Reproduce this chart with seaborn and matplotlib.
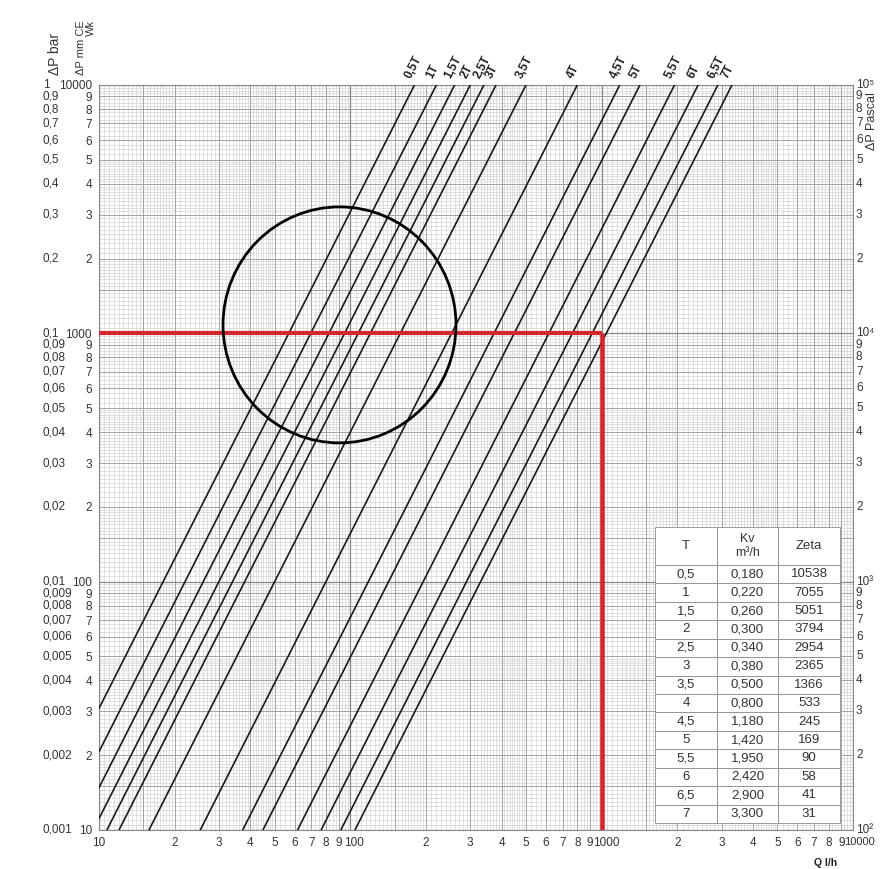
import numpy as np
import pandas as pd
import matplotlib
matplotlib.use("Agg")
import matplotlib.pyplot as plt
import seaborn as sns
from matplotlib.patches import Ellipse
import matplotlib.transforms as mtransforms

sns.set_style("white")
plt.rcParams['font.family'] = ['Liberation Sans', 'DejaVu Sans']

# ---- data (valve table) ----
t_labels = ['0,5', '1', '1,5', '2', '2,5', '3', '3,5', '4', '4,5', '5', '5,5', '6', '6,5', '7']
kv = [0.180, 0.220, 0.260, 0.300, 0.340, 0.380, 0.500, 0.800, 1.180, 1.420, 1.950, 2.420, 2.900, 3.300]
kv_text = ['0,180', '0,220', '0,260', '0,300', '0,340', '0,380', '0,500', '0,800',
           '1,180', '1,420', '1,950', '2,420', '2,900', '3,300']
zeta = ['10538', '7055', '5051', '3794', '2954', '2365', '1366', '533', '245', '169', '90', '58', '41', '31']

q_lim = [10, 10000]      # Q l/h
dp_lim = [10, 10000]     # dP mm CE
q_mark = 1000            # red reading line
dp_mark = 1000

x_ticks = [10, 20, 30, 40, 50, 60, 70, 80, 90, 100, 200, 300, 400, 500, 600, 700, 800, 900,
           1000, 2000, 3000, 4000, 5000, 6000, 7000, 8000, 9000, 10000]
x_ticklabels = ['10', '2', '3', '4', '5', '6', '7', '8', '9', '100', '2', '3', '4', '5', '6', '7', '8', '9',
                '1000', '2', '3', '4', '5', '6', '7', '8', '9', '10000']
y_ticks = x_ticks
mm_labels = x_ticklabels
bar_labels = ['0,001', '0,002', '0,003', '0,004', '0,005', '0,006', '0,007', '0,008', '0,009',
              '0,01', '0,02', '0,03', '0,04', '0,05', '0,06', '0,07', '0,08', '0,09',
              '0,1', '0,2', '0,3', '0,4', '0,5', '0,6', '0,7', '0,8', '0,9', '1']
pa_labels = ['10²', '2', '3', '4', '5', '6', '7', '8', '9',
             '10³', '2', '3', '4', '5', '6', '7', '8', '9',
             '10⁴', '2', '3', '4', '5', '6', '7', '8', '9', '10⁵']

# ---- lines: dP(bar) = (Q/Kv)^2, Q in m3/h ----
rows = []
for lab, k in zip(t_labels, kv):
    q_lo = max(q_lim[0], 1000 * k * np.sqrt(dp_lim[0] / 10000))
    q_hi = min(q_lim[1], 1000 * k * np.sqrt(dp_lim[1] / 10000))
    for q in (q_lo, q_hi):
        rows.append({'T': lab, 'Q': q, 'dP': 10000 * (q / 1000 / k) ** 2})
df = pd.DataFrame(rows)

fig = plt.figure(figsize=(8.83, 8.69), dpi=100)
ax = fig.add_axes([0.1121, 0.0449, 0.8539, 0.8573])
ax.set_xscale('log')
ax.set_yscale('log')
ax.set_xlim(q_lim)
ax.set_ylim(dp_lim)

# graph paper grid
fine, mid, major = [], [], []
for dec in (10, 100, 1000):
    fine += list(dec * np.arange(1.05, 2.0, 0.05)) + list(dec * np.arange(2.1, 5.0, 0.1)) \
        + list(dec * np.arange(5.25, 10.0, 0.25))
    mid += list(dec * np.array([1.5, 2, 3, 4, 5, 6, 7, 8, 9]))
    major.append(dec)
major.append(10000)
for vals, col, lw in ((fine, '#d4d4d4', 0.5), (mid, '#a4a4a4', 0.7), (major, '#888888', 0.9)):
    ax.vlines(vals, dp_lim[0], dp_lim[1], colors=col, lw=lw, zorder=0)
    ax.hlines(vals, q_lim[0], q_lim[1], colors=col, lw=lw, zorder=0)

sns.lineplot(data=df, x='Q', y='dP', units='T', estimator=None, color='#1a1a1a',
             lw=1.2, ax=ax, legend=False, zorder=3)

# labels at top of each line
for lab, k in zip(t_labels, kv):
    q_top = min(q_lim[1], 1000 * k * np.sqrt(dp_lim[1] / 10000))
    ax.annotate(lab + 'T', xy=(q_top, dp_lim[1]), xytext=(-1, 3), textcoords='offset points',
                rotation=63, rotation_mode='anchor', ha='left', va='bottom',
                fontsize=8.5, fontweight='bold', color='#222222')

# red reading lines
ax.plot([q_lim[0], q_mark], [dp_mark, dp_mark], color='#d3262e', lw=3, solid_capstyle='butt', zorder=4)
ax.plot([q_mark, q_mark], [dp_mark, dp_lim[0]], color='#d3262e', lw=3.3, solid_capstyle='butt', zorder=4)

# circle highlight
ax.add_patch(Ellipse((0.319, 0.678), 0.309, 0.3168, transform=ax.transAxes,
                     fill=False, lw=2, edgecolor='black', zorder=5))

# x labels (decade labels nudged right so they don't run into the 9)
ax.set_xticks(x_ticks, [''] * len(x_ticks))
xtrans = mtransforms.blended_transform_factory(ax.transData, ax.transAxes)
for x, lab in zip(x_ticks, x_ticklabels):
    dx = {3: 3, 4: 3, 5: 4.5}.get(len(lab), 0)
    ax.annotate(lab, xy=(x, 0), xycoords=xtrans, xytext=(dx, -5),
                textcoords='offset points', ha='center', va='top',
                fontsize=8 if len(lab) == 5 else 8.5, color='#333333', annotation_clip=False)

ax.set_yticks(y_ticks, mm_labels)
ax.minorticks_off()
ax.tick_params(axis='both', length=0, labelsize=8.5, colors='#333333')
ax.tick_params(axis='y', pad=5)
ax.set_xlabel('')
ax.set_ylabel('')
for sp in ax.spines.values():
    sp.set_color('#888888')
    sp.set_linewidth(0.8)

trans = mtransforms.blended_transform_factory(ax.transAxes, ax.transData)
for y, lab in zip(y_ticks, bar_labels):
    ax.text(-0.0743, y, lab, transform=trans, ha='left', va='center', fontsize=8.5, color='#333333')
for y, lab in zip(y_ticks, pa_labels):
    ax.text(1.004, y, lab, transform=trans, ha='left', va='center', fontsize=8.5, color='#333333')

# axis titles
fig.text(0.0623, 0.914, 'ΔP bar', rotation=90, ha='center', va='bottom', fontsize=10, color='#333333')
fig.text(0.0975, 0.914, 'ΔP mm CE\nWk', rotation=90, ha='center', va='bottom', fontsize=8,
         multialignment='right', linespacing=0.95, color='#333333')
fig.text(0.988, 0.827, 'ΔP Pascal', rotation=90, ha='center', va='bottom', fontsize=9, color='#333333')
fig.text(0.935, 0.007, 'Q l/h', ha='center', va='center', fontsize=7.5, fontweight='bold', color='#222222')

# table
cell_text = [[t, k, z] for t, k, z in zip(t_labels, kv_text, zeta)]
tab = ax.table(cellText=cell_text, colLabels=['T', 'Kv\nm³/h', 'Zeta'], cellLoc='center',
               colWidths=[62, 61, 62], bbox=[0.7374, 0.0094, 0.2454, 0.3973], zorder=6)
tab.auto_set_font_size(False)
tab.set_fontsize(9.5)
for (r, c), cell in tab.get_celld().items():
    cell.set_height(38 if r == 0 else 18.43)
    cell.set_edgecolor('#8c8c8c')
    cell.set_linewidth(0.6)
    cell.set_facecolor('white')
    cell.get_text().set_color('#333333')
tab[0, 1].get_text().set_fontsize(9)

fig.savefig('out.png', dpi=100)
